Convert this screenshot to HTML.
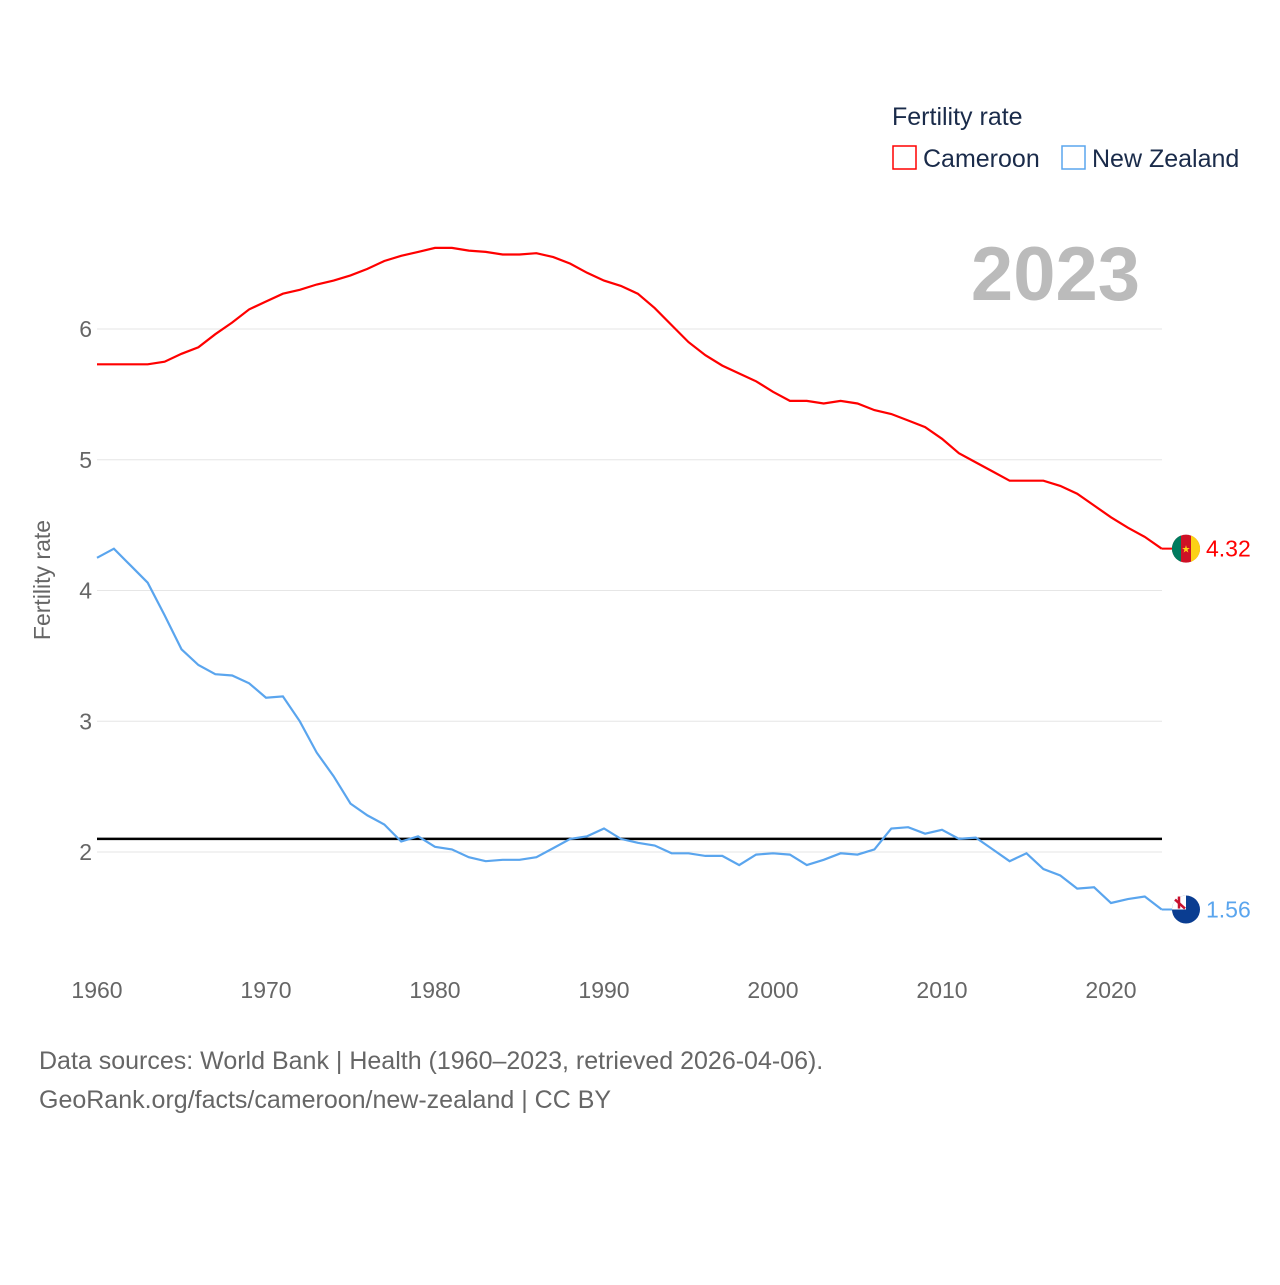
<!DOCTYPE html>
<html><head><meta charset="utf-8"><style>
body{margin:0;background:#fff;font-family:"Liberation Sans",sans-serif;}
svg text{font-family:"Liberation Sans",sans-serif;}
</style></head><body>
<svg id="chart" width="1280" height="1280" xmlns="http://www.w3.org/2000/svg">
<g id="grid"></g>
<g id="yticks"></g>
<g id="xticks"></g>
<text x="50" y="580" font-size="23" fill="#666" text-anchor="middle" transform="rotate(-90 50 580)">Fertility rate</text>
<text x="1140" y="300" font-size="76" font-weight="bold" fill="#bbb" text-anchor="end">2023</text>
<text x="892" y="125" font-size="25" fill="#1a2b4a">Fertility rate</text>
<g>
<rect x="893" y="146" width="23" height="23" fill="none" stroke="#f00" stroke-width="1.5"/>
<text x="923" y="167" font-size="25" fill="#1a2b4a">Cameroon</text></g>
<g>
<rect x="1062" y="146" width="23" height="23" fill="none" stroke="#5aa5ee" stroke-width="1.5"/>
<text x="1092" y="167" font-size="25" fill="#1a2b4a">New Zealand</text></g>
<line id="refline" stroke="#000" stroke-width="2.5"/>
<path id="camLine" fill="none" stroke="#f00" stroke-width="2.2"/>
<path id="nzLine" fill="none" stroke="#5aa5ee" stroke-width="2.2"/>
<g id="ends"></g>
<text x="39" y="1069" font-size="25" fill="#666">Data sources: World Bank | Health (1960–2023, retrieved 2026-04-06).</text>
<text x="39" y="1108" font-size="25" fill="#666">GeoRank.org/facts/cameroon/new-zealand | CC BY</text>
</svg>
<script>
const years=[];for(let y=1960;y<=2023;y++)years.push(y);
const cameroon=[5.73,5.73,5.73,5.73,5.75,5.81,5.86,5.96,6.05,6.15,6.21,6.27,6.30,6.34,6.37,6.41,6.46,6.52,6.56,6.59,6.62,6.62,6.60,6.59,6.57,6.57,6.58,6.55,6.50,6.43,6.37,6.33,6.27,6.16,6.03,5.90,5.80,5.72,5.66,5.60,5.52,5.45,5.45,5.43,5.45,5.43,5.38,5.35,5.30,5.25,5.16,5.05,4.98,4.91,4.84,4.84,4.84,4.80,4.74,4.65,4.56,4.48,4.41,4.32];
const newZealand=[4.25,4.32,4.19,4.06,3.81,3.55,3.43,3.36,3.35,3.29,3.18,3.19,3.00,2.76,2.58,2.37,2.28,2.21,2.08,2.12,2.04,2.02,1.96,1.93,1.94,1.94,1.96,2.03,2.10,2.12,2.18,2.10,2.07,2.05,1.99,1.99,1.97,1.97,1.90,1.98,1.99,1.98,1.90,1.94,1.99,1.98,2.02,2.18,2.19,2.14,2.17,2.10,2.11,2.02,1.93,1.99,1.87,1.82,1.72,1.73,1.61,1.64,1.66,1.56];
const yTicks=[2,3,4,5,6];
const xTicks=[1960,1970,1980,1990,2000,2010,2020];
const replacement=2.1;
const X=y=>97+(y-1960)*16.9;
const Y=v=>852-(v-2)*130.75;
const ns="http://www.w3.org/2000/svg";
function mk(t,a,p){const e=document.createElementNS(ns,t);for(const k in a)e.setAttribute(k,a[k]);p.appendChild(e);return e;}
const grid=document.getElementById('grid'),yt=document.getElementById('yticks'),xt=document.getElementById('xticks');
yTicks.forEach(v=>{const l=mk('line',{x1:97,x2:1162,y1:Y(v),y2:Y(v),stroke:'#e6e6e6','stroke-width':1},grid);


const t=mk('text',{x:92,y:Y(v)+8,'font-size':23,fill:'#666','text-anchor':'end'},yt);t.textContent=v;

});
xTicks.forEach(v=>{const t=mk('text',{x:X(v),y:998,'font-size':23,fill:'#666','text-anchor':'middle'},xt);t.textContent=v;

});
const r=document.getElementById('refline');r.setAttribute('x1',97);r.setAttribute('x2',1162);r.setAttribute('y1',Y(replacement));r.setAttribute('y2',Y(replacement));
const path=a=>a.map((v,i)=>(i?'L':'M')+X(years[i]).toFixed(1)+','+Y(v).toFixed(1)).join('');
document.getElementById('camLine').setAttribute('d',path(cameroon));
document.getElementById('nzLine').setAttribute('d',path(newZealand));
const ends=document.getElementById('ends');
function end(arr,col,name,flag){const v=arr[arr.length-1],y=Y(v),x=X(2023);
mk('line',{x1:x,x2:1186,y1:y,y2:y,stroke:col,'stroke-width':2},ends);
const g=mk('g',{},ends);


flag(g,1186,y);
const t=mk('text',{x:1206,y:y+8,'font-size':23,fill:col},ends);t.textContent=v.toFixed(2);

}
end(cameroon,'#f00','cameroon',(g,x,y)=>{mk('circle',{cx:x,cy:y,r:14,fill:'#ce1126'},g);
mk('path',{d:`M${x-5},${y-13.1}A14,14 0 0 0 ${x-5},${y+13.1}Z`,fill:'#007a5e'},g);
mk('path',{d:`M${x+5},${y-13.1}A14,14 0 0 1 ${x+5},${y+13.1}Z`,fill:'#fcd116'},g);
const s=mk('text',{x:x,y:y+4,'font-size':10,fill:'#fcd116','text-anchor':'middle'},g);s.textContent='★';});
end(newZealand,'#5aa5ee','new-zealand',(g,x,y)=>{mk('circle',{cx:x,cy:y,r:14,fill:'#0a3d91'},g);
mk('path',{d:`M${x-14},${y}A14,14 0 0 1 ${x},${y-14}L${x},${y}Z`,fill:'#fff'},g);
mk('line',{x1:x-11,y1:y-10,x2:x-1,y2:y-1,stroke:'#c8102e','stroke-width':2.5},g);
mk('line',{x1:x-7,y1:y-13,x2:x-7,y2:y-1,stroke:'#c8102e','stroke-width':2.5},g);});
</script>
</body></html>
